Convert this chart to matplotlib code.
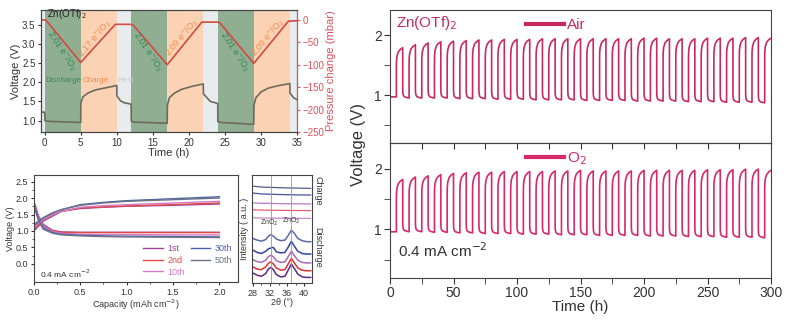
import numpy as np
from matplotlib import pyplot as plt
from matplotlib.lines import Line2D

plt.rcParams['font.family'] = ['Liberation Sans', 'DejaVu Sans']

# ---- panel a: voltage / pressure vs time ----
t_volt = [-0.5, 0, 0.05, 0.5, 5, 5.02, 5.3, 6, 7, 8.5, 10, 10.02, 10.5, 11, 12,
          12.02, 12.5, 17, 17.02, 17.3, 18, 19, 20.5, 22, 22.02, 22.5, 23, 24,
          24.02, 24.5, 29, 29.02, 29.3, 30, 31, 32.5, 34, 34.02, 34.5, 35]
volt = [1.22, 1.22, 1.0, 0.98, 0.95, 1.45, 1.62, 1.72, 1.8, 1.86, 1.92, 1.65, 1.52, 1.47, 1.43,
        0.98, 0.96, 0.93, 1.4, 1.6, 1.72, 1.82, 1.9, 1.96, 1.7, 1.6, 1.5, 1.45,
        0.97, 0.95, 0.9, 1.4, 1.6, 1.75, 1.85, 1.92, 1.97, 1.72, 1.6, 1.55]
t_press = [-0.5, 0, 0.3, 5, 9.8, 12, 12.3, 17, 21.8, 24, 24.3, 29, 33.8, 35]
press = [0, 0, -3, -95, -10, -10, -12, -100, -5, -5, -7, -97, -3, -2]
phases = [(-0.5, 0, 'rest'), (0, 5, 'dis'), (5, 10, 'chg'), (10, 12, 'rest'),
          (12, 17, 'dis'), (17, 22, 'chg'), (22, 24, 'rest'), (24, 29, 'dis'),
          (29, 34, 'chg'), (34, 35, 'rest')]
ratio_labels = ['2.01 e$^{-}$/O$_2$', '2.17 e$^{-}$/O$_2$', '2.01 e$^{-}$/O$_2$',
                '2.09 e$^{-}$/O$_2$', '2.01 e$^{-}$/O$_2$', '2.09 e$^{-}$/O$_2$']

# ---- panel b: charge/discharge profiles ----
cap = [0, 0.05, 0.1, 0.2, 0.3, 0.5, 0.75, 1.0, 1.5, 2.0]
cycles = ['1st', '2nd', '10th', '30th', '50th']
charge_v = [[1.0, 1.15, 1.3, 1.45, 1.6, 1.68, 1.72, 1.75, 1.78, 1.82],
            [1.05, 1.2, 1.35, 1.5, 1.6, 1.7, 1.73, 1.76, 1.8, 1.85],
            [1.1, 1.25, 1.35, 1.5, 1.6, 1.72, 1.77, 1.8, 1.85, 1.9],
            [1.15, 1.3, 1.4, 1.55, 1.65, 1.8, 1.87, 1.92, 1.98, 2.04],
            [1.2, 1.3, 1.4, 1.55, 1.65, 1.78, 1.85, 1.9, 1.95, 2.0]]
discharge_v = [[1.9, 1.45, 1.2, 1.02, 0.97, 0.96, 0.96, 0.96, 0.96, 0.96],
               [1.85, 1.4, 1.15, 1.0, 0.96, 0.95, 0.95, 0.95, 0.95, 0.95],
               [1.8, 1.4, 1.15, 0.98, 0.93, 0.9, 0.89, 0.89, 0.88, 0.88],
               [1.8, 1.35, 1.1, 0.95, 0.9, 0.87, 0.85, 0.84, 0.83, 0.82],
               [1.75, 1.3, 1.05, 0.93, 0.88, 0.85, 0.83, 0.82, 0.81, 0.8]]
cycle_colors = ['#a2449a', '#e04848', '#d27ac4', '#4c62a8', '#6c7486']

# ---- panel c: XRD ----
two_theta = [28, 29, 30, 31, 31.6, 32.2, 32.8, 33.5, 34.5, 35.5, 36.3, 37.0, 37.7, 38.5, 39.5, 40.5, 41.5]
xrd_dis = [[0.30, 0.15, 0.06, 0.20, 0.50, 0.65, 0.50, 0.25, 0.10, 0.15, 0.60, 1.05, 0.75, 0.30, 0.10, 0.02, 0.0],
           [0.35, 0.15, 0.05, 0.25, 0.45, 0.55, 0.60, 0.20, 0.10, 0.15, 0.65, 1.15, 0.70, 0.25, 0.05, 0.0, 0.0],
           [0.30, 0.12, 0.05, 0.25, 0.55, 0.70, 0.55, 0.20, 0.05, 0.10, 0.60, 1.05, 0.65, 0.25, 0.05, 0.0, 0.0],
           [0.35, 0.15, 0.10, 0.35, 0.65, 0.80, 0.60, 0.25, 0.05, 0.10, 0.65, 1.10, 0.70, 0.25, 0.05, 0.0, 0.0],
           [0.40, 0.20, 0.10, 0.35, 0.75, 0.90, 0.70, 0.25, 0.05, 0.10, 0.70, 1.20, 0.80, 0.30, 0.05, 0.0, 0.0]]
xrd_chg_x = [28, 30, 33, 36, 39, 41.5]
xrd_chg = [[0.20, 0.12, 0.08, 0.04, 0.02, 0.0],
           [0.18, 0.10, 0.06, 0.03, 0.01, 0.0],
           [0.10, 0.06, 0.04, 0.02, 0.01, 0.0],
           [0.08, 0.05, 0.03, 0.02, 0.01, 0.0],
           [0.06, 0.04, 0.03, 0.02, 0.01, 0.0]]
chg_colors = ['#525c7c', '#4452a0', '#b878c8', '#e06070', '#c888c8']
dis_colors = ['#5a68a8', '#3444a0', '#a868b8', '#e03030', '#5c2a80']
chg_offsets = [9.4, 8.8, 8.0, 7.4, 6.7]
dis_offsets = [4.6, 3.5, 2.7, 2.0, 1.4]

# ---- panel d: long cycling (30 cycles of 10 h) ----
air_peak = [1.79, 1.84, 1.87, 1.89, 1.90, 1.91, 1.92, 1.92, 1.93, 1.93, 1.93, 1.94, 1.94, 1.94, 1.94,
            1.94, 1.94, 1.94, 1.94, 1.95, 1.95, 1.94, 1.94, 1.94, 1.95, 1.95, 1.95, 1.96, 1.96, 1.95]
air_low = [0.96, 0.95, 0.95, 0.95, 0.95, 0.94, 0.94, 0.94, 0.93, 0.93, 0.93, 0.92, 0.92, 0.92, 0.92,
           0.91, 0.91, 0.91, 0.91, 0.90, 0.90, 0.90, 0.90, 0.89, 0.89, 0.89, 0.88, 0.88, 0.88, 0.87]
o2_peak = [1.82, 1.86, 1.88, 1.90, 1.92, 1.93, 1.94, 1.94, 1.95, 1.95, 1.95, 1.95, 1.96, 1.96, 1.97,
           1.96, 1.96, 1.96, 1.96, 1.97, 1.97, 1.97, 1.97, 1.97, 1.98, 1.98, 1.98, 1.99, 1.99, 1.97]
o2_low = [0.95, 0.96, 0.96, 0.95, 0.95, 0.94, 0.94, 0.93, 0.93, 0.93, 0.92, 0.92, 0.92, 0.91, 0.91,
          0.91, 0.90, 0.90, 0.90, 0.90, 0.89, 0.89, 0.89, 0.88, 0.88, 0.88, 0.87, 0.87, 0.87, 0.86]
# shape of one cycle: hours into cycle and offset from trough (discharge) / peak (charge)
dis_t = [0, 0.15, 0.6, 1.5, 3, 5]
dis_off = [0.15, 0.08, 0.04, 0.02, 0.01, 0]
chg_t = [5, 5.1, 5.5, 6.5, 8, 10]
chg_off = [-0.33, -0.22, -0.14, -0.07, -0.03, 0]


def cycling_curve(peaks, lows):
    tt, vv = [], []
    for k in range(len(peaks)):
        for t, o in zip(dis_t, dis_off):
            tt.append(10 * k + t)
            vv.append(lows[k] + (o if k > 0 else 0.01))
        for t, o in zip(chg_t, chg_off):
            tt.append(10 * k + t)
            vv.append(peaks[k] + o)
    return tt, vv


fig = plt.figure(figsize=(8.03, 3.21), dpi=100)
spine_c = '#444444'
txt_c = '#333333'

# panel a
ax = fig.add_axes([0.0511, 0.5888, 0.3188, 0.3801])
ph_col = {'rest': '#e9ecef', 'dis': '#8fae92', 'chg': '#fbd3b4'}
for a, b, p in phases:
    ax.axvspan(a, b, color=ph_col[p], lw=0)
ax.plot(t_volt, volt, color='#6e6a5c', lw=1.2)
ax.set_xlim(-0.5, 35)
ax.set_ylim(0.7, 3.9)
ax.set_xticks(range(0, 36, 5))
ax.set_yticks([1.0, 1.5, 2.0, 2.5, 3.0, 3.5])
ax.set_xlabel('Time (h)', fontsize=8, color=txt_c, labelpad=0)
ax.set_ylabel('Voltage (V)', fontsize=8, color=txt_c, labelpad=1)
ax.tick_params(labelsize=7, length=2.5, pad=1.5, colors=txt_c)
ax.text(0.3, 3.8, 'Zn(OTf)$_2$', fontsize=7, color='#222222', va='center')
ax.text(0.1, 2.05, 'Discharge', fontsize=5.8, color='#3e8a52', va='center')
ax.text(5.3, 2.05, 'Charge', fontsize=5.8, color='#f08a4a', va='center')
ax.text(10.1, 2.05, 'Rest', fontsize=5.8, color='#c9ccd0', va='center')
ax2 = ax.twinx()
ax2.plot(t_press, press, color='#d24a40', lw=1.2)
ax2.set_ylim(-250, 22)
ax2.set_yticks(range(-250, 1, 50))
ax2.set_ylabel('Pressure change (mbar)', fontsize=8, color='#e0505a', labelpad=1)
ax2.tick_params(labelsize=7, length=2.5, pad=1.5, colors='#e0505a')
ax2.spines['right'].set_color('#e0505a')
lab_pos = [(2.3, -68), (6.9, -42), (14.3, -70), (19.0, -40), (26.3, -70), (31.0, -40)]
for i, (x, y) in enumerate(lab_pos):
    col = '#2e8a50' if i % 2 == 0 else '#f08a4a'
    rot = -57 if i % 2 == 0 else 50
    ax2.text(x, y, ratio_labels[i], fontsize=6.5, color=col, rotation=rot,
             ha='center', va='center', rotation_mode='anchor')
for s in ['left', 'top', 'bottom']:
    ax.spines[s].set_color(spine_c)
    ax2.spines[s].set_color(spine_c)

# panel b
axb = fig.add_axes([0.0423, 0.1215, 0.254, 0.3333])
for i in range(len(cycles)):
    axb.plot(cap, charge_v[i], color=cycle_colors[i], lw=1.0, label=cycles[i])
    axb.plot(cap, discharge_v[i], color=cycle_colors[i], lw=1.0)
axb.set_xlim(0, 2.2)
axb.set_ylim(-0.55, 2.7)
axb.set_xticks([0, 0.5, 1.0, 1.5, 2.0])
axb.set_yticks([0, 0.5, 1.0, 1.5, 2.0, 2.5])
axb.set_xticks(np.arange(0.25, 2.2, 0.5), minor=True)
axb.set_yticks(np.arange(0.25, 2.6, 0.5), minor=True)
axb.set_xlabel('Capacity (mAh cm$^{-2}$)', fontsize=6.5, color=txt_c, labelpad=1)
axb.set_ylabel('Voltage (V)', fontsize=6.5, color=txt_c, labelpad=1)
axb.tick_params(labelsize=6.5, length=2.5, pad=1.5, colors=txt_c)
axb.tick_params(which='minor', length=1.5, colors=txt_c)
axb.text(0.06, -0.3, '0.4 mA cm$^{-2}$', fontsize=6, color=txt_c, va='center')
leg = axb.legend(ncol=2, loc='lower right', frameon=False, fontsize=6.5, handlelength=2.2,
                 columnspacing=0.6, labelspacing=0.3, handletextpad=0.5, borderaxespad=0.2)
for h, txt in zip(leg.get_lines(), leg.get_texts()):
    txt.set_color(h.get_color())
for s in axb.spines.values():
    s.set_color(spine_c)

# panel c
axc = fig.add_axes([0.3138, 0.1184, 0.0747, 0.3364])
for i in range(5):
    axc.plot(xrd_chg_x, np.array(xrd_chg[i]) + chg_offsets[i], color=chg_colors[i], lw=0.9)
    axc.plot(two_theta, np.array(xrd_dis[i]) + dis_offsets[i], color=dis_colors[i], lw=1.1)
axc.axvline(32.2, color='#999999', lw=0.6)
axc.axvline(37.0, color='#999999', lw=0.6)
axc.set_xlim(27.8, 41.8)
axc.set_ylim(0.9, 10.6)
axc.set_xticks([28, 32, 36, 40])
axc.set_xticks([30, 34, 38], minor=True)
axc.set_yticks([])
axc.set_xlabel('2θ (°)', fontsize=6.5, color=txt_c, labelpad=0)
axc.set_ylabel('Intensity ( a.u. )', fontsize=6.5, color=txt_c, labelpad=2)
axc.tick_params(labelsize=6.5, length=2.5, pad=1.5, colors=txt_c)
axc.tick_params(which='minor', length=1.5, colors=txt_c)
axc.text(31.8, 6.1, 'ZnO$_2$', fontsize=5, color=txt_c, ha='center')
axc.text(36.9, 6.3, 'ZnO$_2$', fontsize=5, color=txt_c, ha='center')
axc.text(1.02, 0.85, 'Charge', fontsize=6.5, color=txt_c, rotation=-90,
         transform=axc.transAxes, ha='left', va='center')
axc.text(1.02, 0.33, 'Discharge', fontsize=6.5, color=txt_c, rotation=-90,
         transform=axc.transAxes, ha='left', va='center')
for s in axc.spines.values():
    s.set_color(spine_c)

# panel d
line_c = '#c82a60'
ax_top = fig.add_axes([0.4857, 0.5545, 0.4745, 0.4143])
ax_bot = fig.add_axes([0.4857, 0.134, 0.4745, 0.4206], sharex=ax_top)
t_air, v_air = cycling_curve(air_peak, air_low)
t_o2, v_o2 = cycling_curve(o2_peak, o2_low)
ax_top.plot(t_air, v_air, color=line_c, lw=1.2)
ax_bot.plot(t_o2, v_o2, color='#d8286a', lw=1.2)
for a in (ax_top, ax_bot):
    a.set_xlim(0, 300)
    a.set_ylim(0.2, 2.42)
    a.set_yticks([1, 2])
    a.set_yticks([0.5, 1.5], minor=True)
    a.set_xticks(range(0, 301, 50))
    a.set_xticks(range(25, 300, 50), minor=True)
    a.tick_params(labelsize=10, length=4, pad=2, colors=txt_c)
    a.tick_params(which='minor', length=4, colors=txt_c)
    for s in a.spines.values():
        s.set_color(spine_c)
ax_top.tick_params(axis='x', which='both', labelbottom=False, length=0)
sec = ax_bot.secondary_xaxis('top')
sec.set_xticks(range(0, 301, 25))
sec.tick_params(direction='in', length=4, labeltop=False, colors=txt_c)
sec.spines['top'].set_color(spine_c)
ax_bot.set_xlabel('Time (h)', fontsize=11, color=txt_c, labelpad=0)
fig.text(0.447, 0.55, 'Voltage (V)', fontsize=12, color=txt_c, rotation=90,
         ha='center', va='center')
ax_top.text(0.015, 0.9, 'Zn(OTf)$_2$', fontsize=11, color=line_c, transform=ax_top.transAxes,
            va='center')
ax_bot.text(0.02, 0.2, '0.4 mA cm$^{-2}$', fontsize=11, color=txt_c, transform=ax_bot.transAxes,
            va='center')
l1 = ax_top.legend([Line2D([], [], color=line_c, lw=3)], ['Air'], loc='upper left',
                   bbox_to_anchor=(0.32, 1.04), frameon=False, fontsize=11, handlelength=2.5,
                   handletextpad=0.2)
l1.get_texts()[0].set_color(line_c)
l2 = ax_bot.legend([Line2D([], [], color='#d8286a', lw=3)], ['O$_2$'], loc='upper left',
                   bbox_to_anchor=(0.32, 1.05), frameon=False, fontsize=11, handlelength=2.5,
                   handletextpad=0.2)
l2.get_texts()[0].set_color('#d8286a')

fig.savefig('out.png', dpi=100)
